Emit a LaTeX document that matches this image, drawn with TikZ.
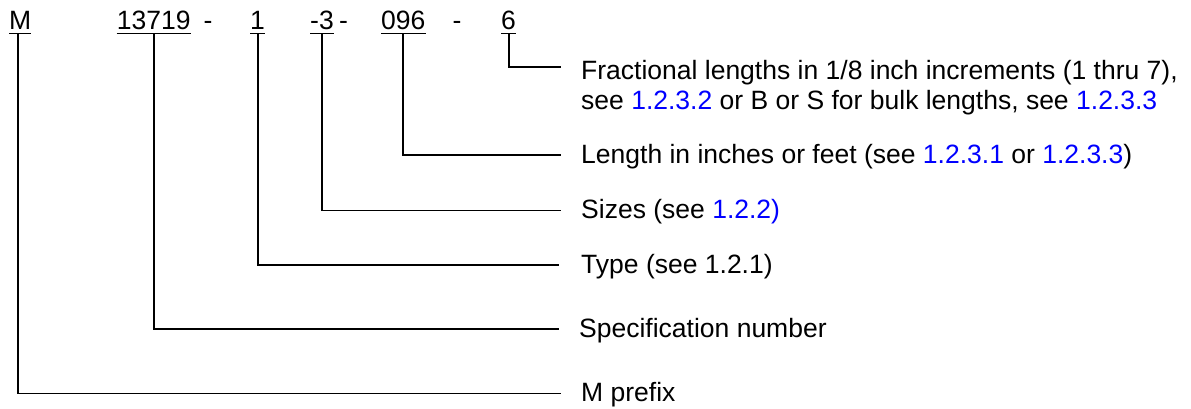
\documentclass[tikz,border=0pt]{standalone}
\usepackage{fontspec}
\setmainfont{Liberation Sans}
\usetikzlibrary{calc}
\definecolor{linkblue}{RGB}{0,0,255}
\newcommand{\lnk}[1]{\textcolor{linkblue}{#1}}
\begin{document}
\begin{tikzpicture}[x=1pt,y=-1pt,
  every node/.style={font=\fontsize{26.5}{30.7}\selectfont, inner sep=0pt},
  toplbl/.style={anchor=base west},
  desc/.style={anchor=west, text height=16pt, text depth=0pt},
  conn/.style={line width=1.9pt, black},
  uline/.style={line width=1.5pt, black}]
\useasboundingbox (0,0) rectangle (1191,409);

% top row: the part number
\node[toplbl] (pM)   at (9,30)     {M};
\node[toplbl] (pSpec) at (116.7,30) {13719};
\node[toplbl] (d1)   at (203.5,30) {-};
\node[toplbl] (pType) at (250,30)   {1};
\node[toplbl] (pSize) at (310,30)   {-3};
\node[toplbl] (d2)   at (339,30)   {-};
\node[toplbl] (pLen) at (381,30)   {096};
\node[toplbl] (d3)   at (452.5,30) {-};
\node[toplbl] (pFrac) at (501,30)   {6};

% underlines
\foreach \n in {pM,pSpec,pType,pSize,pLen,pFrac}{
  \draw[uline] ([yshift=-3.5pt]\n.base west) -- ([yshift=-3.5pt]\n.base east);
}

% descriptions
\node[anchor=base west] (tFrac) at (581,79.3)
  {\begin{tabular}[t]{@{}l@{}}Fractional lengths in 1/8 inch increments (1 thru 7),\\
   see \lnk{1.2.3.2} or B or S for bulk lengths, see \lnk{1.2.3.3}\end{tabular}};
\node[desc] (tLen)  at (581,155)   {Length in inches or feet (see \lnk{1.2.3.1} or \lnk{1.2.3.3})};
\node[desc] (tSize) at (581,210.5) {Sizes (see \lnk{1.2.2)}};
\node[desc] (tType) at (581,265)   {Type (see 1.2.1)};
\node[desc] (tSpec) at (579,329)   {Specification number};
\node[desc] (tM)    at (581,393.5) {M prefix};

\coordinate (eFrac) at (561,66.7);

% connectors
\draw[conn] ([xshift=-2pt,yshift=-3.5pt]pM.base) |- ([xshift=-20pt]tM.west);
\draw[conn] ([yshift=-3.5pt]pSpec.base) |- ([xshift=-20pt]tSpec.west);
\draw[conn] ([yshift=-3.5pt]pType.base) |- ([xshift=-22pt]tType.west);
\draw[conn] ([yshift=-3.5pt]pSize.base) |- ([xshift=-20pt]tSize.west);
\draw[conn] ([yshift=-3.5pt]pLen.base) |- ([xshift=-20pt]tLen.west);
\draw[conn] ([yshift=-3.5pt]pFrac.base) |- (eFrac);
\end{tikzpicture}
\end{document}
